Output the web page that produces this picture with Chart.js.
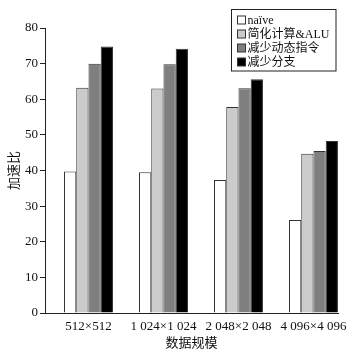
<!DOCTYPE html>
<html>
<head>
<meta charset="utf-8">
<script src="https://cdn.jsdelivr.net/npm/chart.js@4/dist/chart.umd.min.js"></script>
<style>
html,body{margin:0;padding:0;background:#fff;}
#c{display:block;}
</style>
</head>
<body>
<canvas id="c" width="357" height="355"></canvas>
<script>
const categories = ["512×512", "1 024×1 024", "2 048×2 048", "4 096×4 096"];
const seriesNames = ["naïve", "简化计算&ALU", "减少动态指令", "减少分支"];
const naive = [39.7, 39.5, 37.3, 26.1];
const simplified = [63.2, 63.0, 57.8, 44.7];
const reduceInstr = [70.0, 69.8, 63.1, 45.5];
const reduceBranch = [74.8, 74.2, 65.6, 48.3];
const yTicks = [0, 10, 20, 30, 40, 50, 60, 70, 80];

const colors = ["#ffffff", "#cbcbcb", "#7f7f7f", "#000000"];
const serif = "'Liberation Serif','Noto Sans CJK SC',serif";

function toPoints(arr){ return arr.map((v,i)=>({x:i, y:v})); }

const datasets = [naive, simplified, reduceInstr, reduceBranch].map((arr, k) => ({
  label: seriesNames[k],
  data: toPoints(arr),
  backgroundColor: colors[k],
  borderColor: "#333333",
  borderWidth: 1,
  categoryPercentage: 0.653,
  barPercentage: 1.0
}));

const boxLegend = {
  id: 'boxLegend',
  afterDraw(chart) {
    const ctx = chart.ctx;
    const x0 = 231.5, y0 = 9.5, w = 104.5, h = 61.5;
    ctx.save();
    ctx.fillStyle = '#fff';
    ctx.fillRect(x0, y0, w, h);
    ctx.strokeStyle = '#222';
    ctx.lineWidth = 1;
    ctx.strokeRect(x0, y0, w, h);
    ctx.font = "12px " + serif;
    ctx.textBaseline = 'middle';
    ctx.textAlign = 'left';
    chart.data.datasets.forEach((ds, i) => {
      const cy = 20 + i * 14;
      ctx.fillStyle = ds.backgroundColor;
      ctx.fillRect(237.5, cy - 4, 8, 8);
      ctx.strokeStyle = '#333';
      ctx.strokeRect(237.5, cy - 4, 8, 8);
      ctx.fillStyle = '#111';
      ctx.fillText(ds.label, 247.5, cy + 0.5);
    });
    ctx.restore();
  }
};

new Chart(document.getElementById('c'), {
  type: 'bar',
  data: { datasets },
  options: {
    responsive: false,
    animation: false,
    devicePixelRatio: 1,
    layout: { padding: { top: 28, right: 19, left: 0, bottom: 0 } },
    plugins: { legend: { display: false }, tooltip: { enabled: false } },
    scales: {
      x: {
        type: 'linear',
        min: -0.58,
        max: 3.327,
        offset: false,
        afterFit(scale) { scale.height = 42; },
        afterBuildTicks(scale) { scale.ticks = categories.map((_, i) => ({ value: i })); },
        ticks: {
          callback: (v) => categories[v],
          font: { family: serif, size: 13 },
          color: '#111',
          padding: 6,
          maxRotation: 0,
          autoSkip: false
        },
        grid: { display: true, drawOnChartArea: false, drawTicks: false },
        border: { display: true, color: '#222', width: 1 },
        title: { display: true, text: '数据规模', font: { family: serif, size: 13 }, color: '#111', padding: { top: 0, bottom: 4 } }
      },
      y: {
        min: 0,
        max: 80,
        afterFit(scale) { scale.width = 45; },
        afterBuildTicks(scale) { scale.ticks = yTicks.map(v => ({ value: v })); },
        ticks: {
          font: { family: serif, size: 13 },
          color: '#111',
          padding: 2
        },
        grid: { display: true, drawOnChartArea: false, drawTicks: true, tickLength: 5, color: '#222' },
        border: { display: true, color: '#222', width: 1 },
        title: { display: true, text: '加速比', font: { family: serif, size: 13 }, color: '#111', padding: { top: 7, bottom: 0 } }
      }
    }
  },
  plugins: [boxLegend]
});
</script>
</body>
</html>
